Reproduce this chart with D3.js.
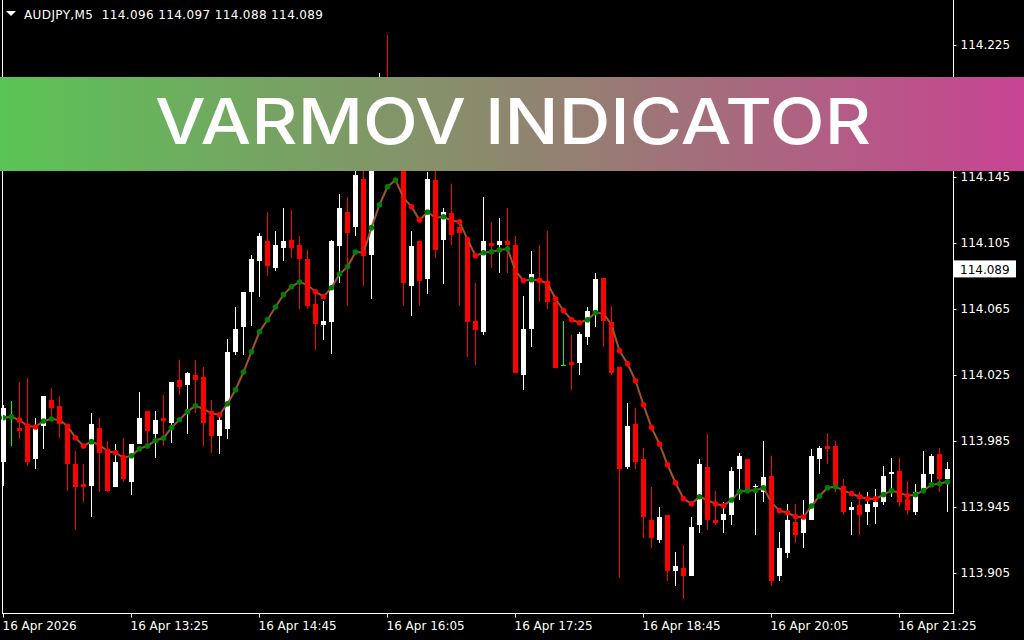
<!DOCTYPE html>
<html>
<head>
<meta charset="utf-8">
<script src="https://cdn.jsdelivr.net/npm/d3@7/dist/d3.min.js"></script>
<style>
html,body{margin:0;padding:0;background:#000;}
svg{display:block;}
</style>
</head>
<body>
<svg id="chart" width="1024" height="640"></svg>
<script>
// ---- data (AUDJPY M5, 16 Apr 12:05 .. 21:55) ----
const symbolTitle = "AUDJPY,M5  114.096 114.097 114.088 114.089";
const bannerText = "VARMOV INDICATOR";
const lastPrice = 114.089;

const opens = [113.972,114.000,113.993,113.995,113.974,113.994,114.010,114.006,113.995,113.971,
113.959,113.958,113.993,113.980,113.957,113.975,113.960,113.983,114.003,113.989,
113.999,113.996,114.022,114.019,114.025,114.024,114.000,113.988,113.992,114.039,
114.054,114.075,114.094,114.106,114.090,114.102,114.107,114.104,114.095,114.068,
114.055,114.057,114.103,114.124,114.115,114.144,114.098,114.161,114.192,114.173,
114.189,114.079,114.106,114.083,114.143,114.107,114.123,114.115,114.108,114.058,
114.051,114.105,114.104,114.106,114.104,114.025,114.053,114.084,114.081,114.069,
114.031,114.033,114.032,114.048,114.063,114.084,114.057,114.030,113.969,113.995,
113.974,113.937,113.925,113.940,113.906,113.908,113.903,113.934,113.969,113.937,
113.937,113.940,113.968,113.974,113.957,113.954,113.964,113.903,113.917,113.936,
113.929,113.937,113.974,113.982,113.982,113.958,113.943,113.946,113.942,113.945,
113.948,113.965,113.967,113.950,113.942,113.955,113.965,113.977,113.962];
const highs = [114.007,114.009,114.021,114.023,113.999,114.012,114.017,114.012,113.995,113.979,
113.971,114.002,113.999,113.985,113.983,113.987,113.983,114.015,114.003,114.003,
114.013,114.021,114.034,114.027,114.034,114.030,114.010,114.001,114.047,114.066,
114.075,114.098,114.111,114.124,114.112,114.126,114.125,114.109,114.101,114.075,
114.070,114.107,114.135,114.133,114.155,114.152,114.167,114.208,114.231,114.195,
114.198,114.112,114.106,114.148,114.155,114.126,114.141,114.119,114.108,114.081,
114.133,114.118,114.120,114.126,114.109,114.073,114.100,114.104,114.112,114.069,
114.058,114.049,114.051,114.066,114.087,114.084,114.067,114.030,114.008,114.005,
113.981,113.957,113.945,113.940,113.918,113.922,113.939,113.974,113.989,113.955,
113.948,113.969,113.978,113.974,113.959,113.985,113.976,113.930,113.947,113.947,
113.949,113.980,113.982,113.990,113.985,113.962,113.948,113.954,113.954,113.956,
113.970,113.975,113.975,113.961,113.959,113.979,113.977,113.981,113.972];
const lows = [113.958,113.982,113.986,113.970,113.968,113.980,113.998,113.987,113.955,113.931,
113.948,113.939,113.954,113.954,113.957,113.960,113.952,113.983,113.983,113.975,
113.982,113.984,114.013,113.989,114.002,113.982,113.978,113.977,113.986,114.037,
114.037,114.055,114.072,114.085,114.088,114.094,114.096,114.065,114.065,114.040,
114.046,114.038,114.081,114.067,114.109,114.079,114.071,114.158,114.155,114.167,
114.067,114.061,114.067,114.074,114.096,114.080,114.104,114.067,114.036,114.031,
114.049,114.090,114.087,114.087,114.026,114.016,114.042,114.069,114.065,114.029,
114.031,114.016,114.025,114.043,114.054,114.042,114.025,113.902,113.968,113.968,
113.926,113.920,113.923,113.900,113.897,113.889,113.903,113.929,113.931,113.934,
113.929,113.934,113.949,113.954,113.928,113.948,113.897,113.900,113.914,113.923,
113.920,113.937,113.965,113.971,113.954,113.940,113.928,113.928,113.934,113.935,
113.946,113.951,113.945,113.940,113.940,113.954,113.959,113.954,113.942];
const closes = [114.005,114.000,113.991,113.972,113.994,114.012,114.005,113.995,113.971,113.957,
113.957,113.995,113.978,113.955,113.972,113.962,113.983,113.999,113.991,113.998,
113.997,114.021,114.018,114.026,114.022,113.996,113.988,113.998,114.039,114.053,
114.075,114.095,114.109,114.091,114.104,114.106,114.102,114.095,114.067,114.056,
114.058,114.106,114.126,114.111,114.146,114.097,114.161,114.192,114.173,114.189,
114.081,114.103,114.082,114.144,114.101,114.124,114.110,114.111,114.057,114.052,
114.106,114.103,114.106,114.104,114.026,114.053,114.086,114.083,114.069,114.029,
114.031,114.031,114.050,114.064,114.083,114.058,114.026,113.968,113.994,113.972,
113.939,113.926,113.939,113.906,113.909,113.903,113.933,113.971,113.937,113.935,
113.941,113.967,113.976,113.955,113.958,113.963,113.900,113.920,113.937,113.928,
113.939,113.976,113.981,113.980,113.957,113.942,113.945,113.940,113.947,113.948,
113.964,113.966,113.948,113.943,113.954,113.965,113.976,113.962,113.968];
const varmov = [113.9991,113.9997,113.9977,113.9941,113.9935,113.9971,113.9983,113.9977,113.9939,113.9870,
113.9820,113.9846,113.9826,113.9788,113.9779,113.9749,113.9761,113.9803,113.9820,113.9853,
113.9868,113.9931,113.9979,114.0028,114.0064,114.0044,114.0018,114.0009,114.0076,114.0161,
114.0268,114.0391,114.0512,114.0585,114.0662,114.0737,114.0785,114.0814,114.0795,114.0755,
114.0725,114.0779,114.0862,114.0906,114.0995,114.0992,114.1143,114.1282,114.1391,114.1432,
114.1325,114.1270,114.1189,114.1238,114.1203,114.1209,114.1185,114.1179,114.1071,114.0973,
114.0991,114.0997,114.1008,114.1015,114.0882,114.0822,114.0828,114.0823,114.0806,114.0712,
114.0640,114.0585,114.0567,114.0585,114.0628,114.0622,114.0555,114.0397,114.0318,114.0215,
114.0070,113.9931,113.9832,113.9706,113.9597,113.9500,113.9470,113.9512,113.9491,113.9470,
113.9458,113.9492,113.9543,113.9549,113.9551,113.9567,113.9476,113.9428,113.9415,113.9391,
113.9389,113.9456,113.9517,113.9567,113.9573,113.9549,113.9531,113.9512,113.9500,113.9499,
113.9525,113.9549,113.9537,113.9518,113.9525,113.9549,113.9585,113.9591,113.9603];

const priceTicks = [113.905,113.945,113.985,114.025,114.065,114.105,114.145,114.185,114.225];
const timeTickIndex = [0,16,32,48,64,80,96,112];
const timeTickLabels = ["16 Apr 2026","16 Apr 13:25","16 Apr 14:45","16 Apr 16:05","16 Apr 17:25","16 Apr 18:45","16 Apr 20:05","16 Apr 21:25"];

// ---- drawing ----
const svg = d3.select("#chart");
const W = 1024, H = 640;
const plotRight = 953, plotBottom = 613;
const n = opens.length;

const x = d3.scaleLinear().domain([0, n - 1]).range([3, 3 + 8 * (n - 1)]);
const y = d3.scaleLinear().domain([113.905, 114.225]).range([573, 45]);

svg.append("rect").attr("width", W).attr("height", H).attr("fill", "#000");

svg.append("defs").append("clipPath").attr("id", "plotclip")
  .append("rect").attr("x", 0).attr("y", 0).attr("width", plotRight).attr("height", plotBottom);

const plot = svg.append("g").attr("clip-path", "url(#plotclip)");

const idx = d3.range(n);
const colorOf = i => closes[i] > opens[i] ? "#ffffff" : (closes[i] < opens[i] ? "#ff0000" : "#00ff00");

const candles = plot.append("g").selectAll("g").data(idx).join("g");
candles.append("line")
  .attr("x1", i => Math.round(x(i)) + 0.5).attr("x2", i => Math.round(x(i)) + 0.5)
  .attr("y1", i => y(highs[i])).attr("y2", i => y(lows[i]))
  .attr("stroke", colorOf).attr("stroke-width", 1)
  .attr("shape-rendering", "crispEdges");
candles.append("rect")
  .attr("x", i => Math.round(x(i)) - 2)
  .attr("width", 5)
  .attr("y", i => Math.round(y(Math.max(opens[i], closes[i]))))
  .attr("height", i => Math.max(1, Math.round(y(Math.min(opens[i], closes[i]))) - Math.round(y(Math.max(opens[i], closes[i])))))
  .attr("fill", colorOf)
  .attr("shape-rendering", "crispEdges");

// VarMov line + dots
const line = d3.line().x(i => x(i) + 0.5).y(i => y(varmov[i]));
plot.append("path").datum(idx).attr("d", line)
  .attr("fill", "none").attr("stroke", "#a0522d").attr("stroke-width", 2);
plot.append("g").selectAll("circle").data(idx).join("circle")
  .attr("cx", i => x(i) + 0.5).attr("cy", i => y(varmov[i])).attr("r", 2.8)
  .attr("fill", i => (i === 0 || varmov[i] >= varmov[i - 1]) ? "#008000" : "#ff0000");

// frame
const frame = svg.append("g").attr("stroke", "#ffffff").attr("stroke-width", 1).attr("shape-rendering", "crispEdges");
frame.append("line").attr("x1", 2.5).attr("x2", 2.5).attr("y1", 0).attr("y2", plotBottom + 0.5);
frame.append("line").attr("x1", 2).attr("x2", plotRight + 0.5).attr("y1", plotBottom + 0.5).attr("y2", plotBottom + 0.5);
frame.append("line").attr("x1", plotRight + 0.5).attr("x2", plotRight + 0.5).attr("y1", 0).attr("y2", plotBottom + 0.5);

// price axis
const yAxis = d3.axisRight(y).tickValues(priceTicks).tickFormat(d3.format(".3f")).tickSize(3).tickPadding(4);
const yg = svg.append("g").attr("transform", `translate(${plotRight + 0.5},0)`).call(yAxis);
yg.select(".domain").remove();
yg.selectAll("line").attr("stroke", "#fff");
yg.selectAll("text").attr("fill", "#fff").attr("font-family", "DejaVu Sans").attr("font-size", 12).attr("x", 7);

// time axis
const xAxis = d3.axisBottom(x).tickValues(timeTickIndex).tickFormat((d, k) => timeTickLabels[k]).tickSize(4).tickPadding(4);
const xg = svg.append("g").attr("transform", `translate(0,${plotBottom + 0.5})`).call(xAxis);
xg.select(".domain").remove();
xg.selectAll("line").attr("stroke", "#fff");
xg.selectAll("text").attr("fill", "#fff").attr("font-family", "DejaVu Sans").attr("font-size", 12)
  .attr("text-anchor", "start").attr("dx", -1);

// last price label
const ly = y(lastPrice);
svg.append("rect").attr("x", 954).attr("y", ly - 9).attr("width", 62).attr("height", 17).attr("fill", "#fff");
svg.append("text").attr("x", 960).attr("y", ly).attr("dy", "0.35em")
  .attr("font-family", "DejaVu Sans").attr("font-size", 12).attr("fill", "#000").text(d3.format(".3f")(lastPrice));

// title
svg.append("path").attr("d", "M6,11 L16,11 L11,16 Z").attr("fill", "#fff");
svg.append("text").attr("x", 24).attr("y", 19).attr("font-family", "DejaVu Sans").attr("font-size", 12)
  .attr("textLength", 299).attr("lengthAdjust", "spacing")
  .attr("fill", "#fff").attr("xml:space", "preserve").style("white-space", "pre").text(symbolTitle);

// banner
const grad = svg.append("defs").append("linearGradient").attr("id", "bannerGrad")
  .attr("x1", "0%").attr("x2", "100%").attr("y1", "0%").attr("y2", "0%");
grad.append("stop").attr("offset", "0%").attr("stop-color", "rgb(90,196,85)");
grad.append("stop").attr("offset", "50%").attr("stop-color", "rgb(142,135,110)");
grad.append("stop").attr("offset", "100%").attr("stop-color", "rgb(200,68,146)");
svg.append("rect").attr("x", 0).attr("y", 77).attr("width", W).attr("height", 94).attr("fill", "url(#bannerGrad)");
svg.append("text").attr("x", 513).attr("y", 144).attr("text-anchor", "middle")
  .attr("font-family", "Inter, 'Open Sans', sans-serif").attr("font-weight", 500).attr("font-size", 63)
  .attr("textLength", 716).attr("lengthAdjust", "spacingAndGlyphs")
  .attr("fill", "#fff").text(bannerText);
</script>
</body>
</html>
